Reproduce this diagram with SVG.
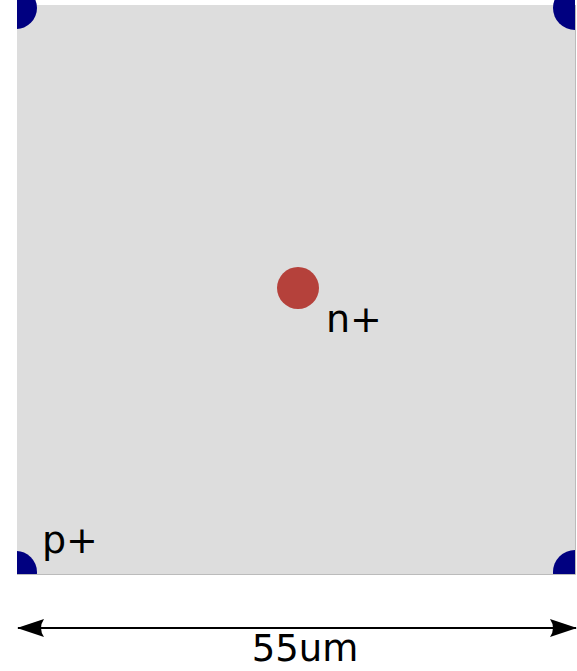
<svg xmlns="http://www.w3.org/2000/svg" width="577" height="671" viewBox="0 0 577 671">
  <style>
    .lbl { font-family: "DejaVu Sans", sans-serif; fill: #000; }
    .pplus { fill: #000080; }
  </style>
  <defs>
    <clipPath id="cl"><rect x="17" y="0" width="558" height="574"/></clipPath>
    <marker id="ah" viewBox="0 0 28 20" refX="26" refY="10" markerWidth="28" markerHeight="20" markerUnits="userSpaceOnUse" orient="auto-start-reverse">
      <path d="M0,1 L27,10 L0,19 Q6,10 0,1 Z" fill="#000"/>
    </marker>
  </defs>
  <g id="substrate">
    <rect x="17" y="5" width="558" height="569" fill="#dddddd"/>
    <path d="M575.5,5 V574.5 H17" fill="none" stroke="#bbbbbb" stroke-width="1"/>
  </g>
  <g id="p-plus" clip-path="url(#cl)">
    <circle class="pplus" cx="16" cy="8" r="21"/>
    <circle class="pplus" cx="575" cy="8" r="22"/>
    <circle class="pplus" cx="16" cy="572" r="21"/>
    <circle class="pplus" cx="575" cy="572" r="22"/>
  </g>
  <g id="n-plus">
    <circle cx="298" cy="288" r="21" fill="#b5413b"/>
  </g>
  <text class="lbl" x="326" y="332" font-size="38">n+</text>
  <text class="lbl" x="42" y="553" font-size="38">p+</text>
  <g id="connectors">
    <line x1="18" y1="628" x2="576" y2="628" stroke="#000" stroke-width="2" marker-start="url(#ah)" marker-end="url(#ah)"/>
  </g>
  <text class="lbl" x="305" y="661" font-size="37" text-anchor="middle">55um</text>
</svg>
